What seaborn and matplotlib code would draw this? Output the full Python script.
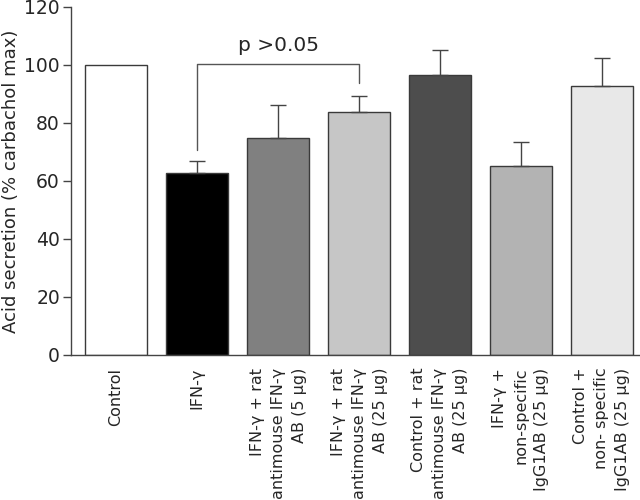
import matplotlib
matplotlib.use("Agg")
import matplotlib.pyplot as plt
import seaborn as sns
import pandas as pd

categories = [
    "Control",
    "IFN-γ",
    "IFN-γ + rat\nantimouse IFN-γ\nAB (5 μg)",
    "IFN-γ + rat\nantimouse IFN-γ\nAB (25 μg)",
    "Control + rat\nantimouse IFN-γ\nAB (25 μg)",
    "IFN-γ +\nnon-specific\nIgG1AB (25 μg)",
    "Control +\nnon- specific\nIgG1AB (25 μg)",
]
values = [100.0, 62.7, 74.8, 83.9, 96.6, 65.3, 92.7]
errors = [0.0, 4.3, 11.4, 5.3, 8.7, 8.1, 9.6]
colors = ["#ffffff", "#000000", "#808080", "#c6c6c6", "#4d4d4d", "#b3b3b3", "#e8e8e8"]

sns.set_style("ticks")
plt.rcParams["font.family"] = ["DejaVu Sans"]

df = pd.DataFrame({"cat": categories, "val": values})

fig = plt.figure(figsize=(6.4, 5), dpi=100)
ax = fig.add_axes([0.111, 0.29, 0.889, 0.696])

sns.barplot(data=df, x="cat", y="val", hue="cat", palette=colors, legend=False,
            width=0.76, edgecolor="#3a3a3a", linewidth=1.0, ax=ax, errorbar=None)

xs = list(range(len(categories)))
for x, v, e in zip(xs, values, errors):
    if e > 0:
        ax.errorbar(x, v, yerr=[[0], [e]], fmt="none", ecolor="#444444",
                    elinewidth=1.0, capsize=6, capthick=1.0, zorder=3)

# significance bracket between IFN-γ and the 25 μg antibody group
ax.plot([1, 1, 3, 3], [70.8, 100.2, 100.2, 93.8], color="#555555", lw=1.0)
ax.text(2, 103.3, "p >0.05", ha="center", va="bottom", fontsize=14.5)

ax.set_xlim(-0.556, 6.47)
ax.set_ylim(0, 120)
ax.set_yticks([0, 20, 40, 60, 80, 100, 120])
ax.tick_params(axis="y", labelsize=13.5, length=6, width=1.0, color="#444444", pad=2)
ax.tick_params(axis="x", length=0, labelsize=11.5, pad=9)
for lbl in ax.get_xticklabels():
    lbl.set_rotation(90)
    lbl.set_ha("center")
    lbl.set_va("top")
    lbl.set_multialignment("right")
    lbl.set_linespacing(1.5)
ax.set_xlabel("")
ax.set_ylabel("Acid secretion (% carbachol max)", fontsize=13, labelpad=3)
sns.despine(ax=ax)
for s in ["left", "bottom"]:
    ax.spines[s].set_color("#444444")
    ax.spines[s].set_linewidth(1.0)

fig.savefig("out.png", dpi=100)
